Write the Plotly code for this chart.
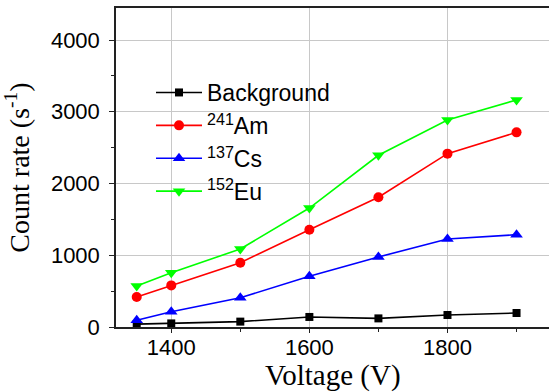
import plotly.graph_objects as go

voltage = [1350, 1400, 1500, 1600, 1700, 1800, 1900]
background = [40, 50, 75, 140, 120, 167, 195]
am241 = [418, 580, 896, 1356, 1808, 2416, 2713]
cs137 = [95, 213, 408, 706, 976, 1226, 1287]
eu152 = [571, 757, 1087, 1658, 2393, 2885, 3164]

series = [
    ("Background", background, "#000000", "square", 8),
    ("<sup>241</sup>Am", am241, "#ff0000", "circle", 10),
    ("<sup>137</sup>Cs", cs137, "#0000ff", "triangle-up", 11),
    ("<sup>152</sup>Eu", eu152, "#00ff00", "triangle-down", 11),
]

fig = go.Figure()
for i, (name, vals, color, sym, size) in enumerate(series):
    fig.add_trace(go.Scatter(
        x=voltage, y=vals, name=name, mode="lines+markers",
        line=dict(color=color, width=1.6),
        marker=dict(symbol=sym, size=size, color=color),
        legendgroup=f"g{i}",
    ))

tick_font = dict(family="Liberation Sans, Arial", size=22, color="#000")
title_font = dict(family="Liberation Serif, Times New Roman", size=28, color="#000")

fig.update_layout(
    width=549, height=392,
    margin=dict(l=116, r=0, t=8, b=65),
    plot_bgcolor="white", paper_bgcolor="white",
    showlegend=True,
    legend=dict(
        x=(151 - 116) / 433, y=1 - (71 - 8) / 319, xanchor="left", yanchor="top",
        bgcolor="rgba(255,255,255,0)", borderwidth=0,
        font=dict(family="Liberation Sans, Arial", size=23, color="#000"),
        itemwidth=46, tracegroupgap=0,
    ),
    xaxis=dict(
        range=[1320, 1947], dtick=200, tick0=1400, automargin=False,
        showline=True, linecolor="#222", linewidth=1.5, mirror=True,
        ticks="outside", ticklen=4, tickcolor="#222", ticklabelstandoff=-4,
        minor=dict(dtick=100, tick0=1400, ticks="outside", ticklen=3, tickcolor="#222", showgrid=False),
        showgrid=True, gridcolor="#c8c8c8", gridwidth=1,
        tickfont=tick_font, zeroline=False,
    ),
    yaxis=dict(
        range=[0, 4446], dtick=1000, automargin=False,
        showline=True, linecolor="#222", linewidth=1.5,
        ticks="outside", ticklen=5, tickcolor="#222", ticklabelstandoff=5,
        minor=dict(dtick=500, ticks="outside", ticklen=3, tickcolor="#222", showgrid=False),
        showgrid=True, gridcolor="#c8c8c8", gridwidth=1,
        tickfont=tick_font, zeroline=False,
        title=dict(text="Count rate (s<sup>-1</sup>)", font=title_font, standoff=16),
    ),
    annotations=[dict(
        text="Voltage (V)", xref="paper", yref="paper", x=(333 - 116) / 433, y=0,
        xanchor="center", yanchor="middle", yshift=-48, showarrow=False,
        font=dict(family="Liberation Serif, Times New Roman", size=29, color="#000"),
    )],
)

fig.write_html("out.html", config={"displayModeBar": False},
               post_script="document.body.style.margin='0';document.body.style.overflow='hidden';")
